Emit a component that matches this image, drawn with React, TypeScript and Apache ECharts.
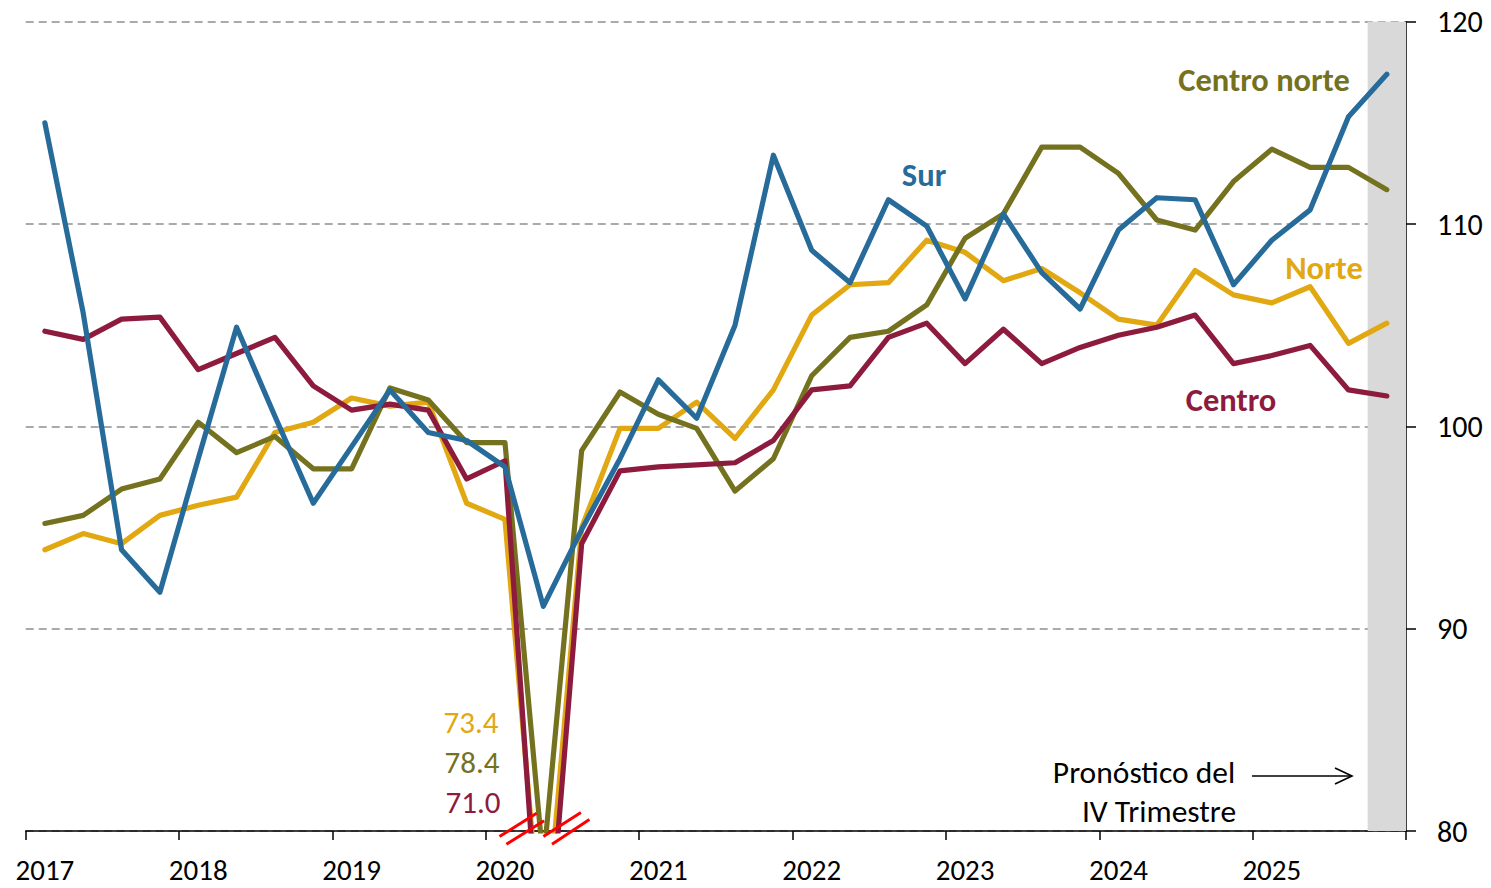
import React, { useEffect, useRef } from "react";
import * as echarts from "echarts";

const years = [2017, 2018, 2019, 2020, 2021, 2022, 2023, 2024, 2025];
const quarters = ["T1", "T2", "T3", "T4"];
const categories = years.flatMap((y) => quarters.map((q) => `${y} ${q}`));

const yTicks = { min: 80, max: 120, interval: 10 };

const norte = [
  93.9, 94.7, 94.2, 95.6, 96.1, 96.5, 99.7, 100.2, 101.4, 101.0, 101.2, 96.2,
  95.4, 73.4, 95.0, 99.9, 99.9, 101.2, 99.4, 101.8, 105.5, 107.0, 107.1, 109.2,
  108.6, 107.2, 107.8, 106.6, 105.3, 105.0, 107.7, 106.5, 106.1, 106.9, 104.1, 105.1,
];
const centroNorte = [
  95.2, 95.6, 96.9, 97.4, 100.2, 98.7, 99.5, 97.9, 97.9, 101.9, 101.3, 99.2,
  99.2, 78.4, 98.8, 101.7, 100.6, 99.9, 96.8, 98.4, 102.5, 104.4, 104.7, 106.0,
  109.3, 110.5, 113.8, 113.8, 112.5, 110.2, 109.7, 112.1, 113.7, 112.8, 112.8, 111.7,
];
const centro = [
  104.7, 104.3, 105.3, 105.4, 102.8, 103.6, 104.4, 102.0, 100.8, 101.1, 100.8, 97.4,
  98.3, 71.0, 94.2, 97.8, 98.0, 98.1, 98.2, 99.3, 101.8, 102.0, 104.4, 105.1,
  103.1, 104.8, 103.1, 103.9, 104.5, 104.9, 105.5, 103.1, 103.5, 104.0, 101.8, 101.5,
];
const sur = [
  115.0, 105.6, 93.9, 91.8, 98.4, 104.9, 100.5, 96.2, 99.0, 101.8, 99.7, 99.3,
  98.0, 91.1, 94.9, 98.4, 102.3, 100.4, 105.0, 113.4, 108.7, 107.1, 111.2, 109.9,
  106.3, 110.5, 107.6, 105.8, 109.7, 111.3, 111.2, 107.0, 109.2, 110.7, 115.3, 117.4,
];
const forecastCategory = "2025 T4";
const outOfRangeLabels = ["73.4", "78.4", "71.0"];

const COLORS = {
  norte: "#E1A812",
  centroNorte: "#75721F",
  centro: "#8D1B3D",
  sur: "#276B9A",
  band: "#D9D9D9",
  grid: "#8F8F8F",
};
const FONT = "Carlito, Lato, sans-serif";

export default function App() {
  const ref = useRef<HTMLDivElement>(null);

  useEffect(() => {
    if (!ref.current) return;
    const chart = echarts.init(ref.current, undefined, { renderer: "svg" });

    const lineSeries = (name: string, data: number[], color: string) => ({
      name,
      type: "line",
      data,
      symbol: "none",
      clip: true,
      lineStyle: { color, width: 5.2, cap: "round", join: "round" },
      itemStyle: { color },
      z: 3,
      silent: true,
    });

    const bandData = categories.map((c) => (c === forecastCategory ? yTicks.max : null));

    const txt = (
      text: string,
      x: number,
      y: number,
      color: string,
      size: number,
      weight: string = "normal"
    ) => ({
      type: "text",
      x,
      y,
      silent: true,
      style: {
        text,
        fill: color,
        font: `${weight} ${size}px ${FONT}`,
        align: "center",
        verticalAlign: "middle",
      },
      z: 10,
    });

    const redLine = (x1: number, y1: number, x2: number, y2: number) => ({
      type: "line",
      shape: { x1, y1, x2, y2 },
      style: { stroke: "#FF0000", lineWidth: 3 },
      z: 12,
      silent: true,
    });

    chart.setOption({
      animation: false,
      grid: { left: 25.7, right: 85, top: 21.7, bottom: 57 },
      xAxis: {
        type: "category",
        data: categories,
        boundaryGap: true,
        axisLine: { show: true, lineStyle: { color: "#000", width: 1.5 } },
        axisTick: { show: true, interval: 3, length: 9, lineStyle: { color: "#000", width: 1.5 } },
        axisLabel: {
          interval: 3,
          margin: 24,
          color: "#000",
          fontSize: 29,
          lineHeight: 29,
          fontFamily: FONT,
          formatter: (v: string) => v.split(" ")[0],
        },
        splitLine: { show: false },
      },
      yAxis: {
        type: "value",
        position: "right",
        min: yTicks.min,
        max: yTicks.max,
        interval: yTicks.interval,
        axisLine: { show: true, lineStyle: { color: "#000", width: 1.5 } },
        axisTick: { show: true, length: 10, lineStyle: { color: "#000", width: 1.5 } },
        axisLabel: { margin: 31, color: "#000", fontSize: 30, fontFamily: FONT },
        splitLine: {
          show: true,
          lineStyle: { color: COLORS.grid, width: 1.5, type: [8, 5] },
        },
      },
      series: [
        {
          name: "Pronóstico",
          type: "bar",
          data: bandData,
          barWidth: "100%",
          clip: true,
          itemStyle: { color: COLORS.band },
          silent: true,
          z: 1,
        },
        lineSeries("Norte", norte, COLORS.norte),
        lineSeries("Centro norte", centroNorte, COLORS.centroNorte),
        lineSeries("Centro", centro, COLORS.centro),
        lineSeries("Sur", sur, COLORS.sur),
      ],
      graphic: [
        txt("Centro norte", 1264, 80, COLORS.centroNorte, 32.5, "bold"),
        txt("Sur", 924, 175, COLORS.sur, 32.5, "bold"),
        txt("Norte", 1324, 268, COLORS.norte, 32.5, "bold"),
        txt("Centro", 1231, 400, COLORS.centro, 32.5, "bold"),
        txt(outOfRangeLabels[0], 471, 722, COLORS.norte, 31),
        txt(outOfRangeLabels[1], 472, 762, COLORS.centroNorte, 31),
        txt(outOfRangeLabels[2], 473, 802, COLORS.centro, 31),
        txt("Pronóstico del", 1144, 772, "#000", 31.5),
        txt("IV Trimestre", 1159, 811, "#000", 31.5),
        {
          type: "line",
          shape: { x1: 1252, y1: 776, x2: 1351, y2: 776 },
          style: { stroke: "#000", lineWidth: 1.6 },
          silent: true,
          z: 10,
        },
        {
          type: "polyline",
          shape: { points: [[1335, 768], [1352, 776], [1335, 784]] },
          style: { stroke: "#000", lineWidth: 1.6, fill: "none" },
          silent: true,
          z: 10,
        },
        redLine(499.5, 836.6, 536.6, 813.3),
        redLine(506.4, 844.2, 544.1, 820.8),
        redLine(543.4, 836.6, 580.9, 812.6),
        redLine(552.0, 844.2, 589.4, 819.5),
      ],
    });

    return () => chart.dispose();
  }, []);

  return (
    <div
      ref={ref}
      style={{ position: "fixed", left: 0, top: 0, width: 1491, height: 888, background: "#fff" }}
    />
  );
}
